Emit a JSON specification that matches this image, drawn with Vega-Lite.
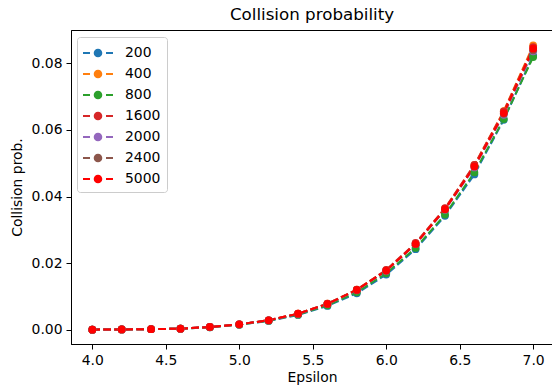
{
  "$schema": "https://vega.github.io/schema/vega-lite/v6.json",
  "width": 482,
  "height": 314,
  "autosize": {"type": "none"},
  "padding": {"left": 71, "top": 30, "right": 0, "bottom": 46},
  "config": {
    "font": "DejaVu Sans",
    "view": {"stroke": "black", "strokeWidth": 1},
    "axis": {
      "grid": false,
      "domainColor": "black",
      "domainWidth": 1,
      "tickColor": "black",
      "tickSize": 5,
      "tickWidth": 1,
      "labelColor": "black",
      "labelFontSize": 13.9,
      "labelPadding": 4,
      "titleColor": "black",
      "titleFontSize": 13.9,
      "titleFontWeight": "normal"
    }
  },
  "title": {"text": "Collision probability", "fontSize": 16.7, "fontWeight": "normal", "color": "black", "anchor": "middle", "offset": 6},
  "data": {
    "values": [
      {"eps": 4.0, "n": "200", "p": 0.0001}, {"eps": 4.2, "n": "200", "p": 0.00015}, {"eps": 4.4, "n": "200", "p": 0.00025}, {"eps": 4.6, "n": "200", "p": 0.0004}, {"eps": 4.8, "n": "200", "p": 0.0008}, {"eps": 5.0, "n": "200", "p": 0.0016}, {"eps": 5.2, "n": "200", "p": 0.0027}, {"eps": 5.4, "n": "200", "p": 0.0045}, {"eps": 5.6, "n": "200", "p": 0.0072}, {"eps": 5.8, "n": "200", "p": 0.0110}, {"eps": 6.0, "n": "200", "p": 0.0166}, {"eps": 6.2, "n": "200", "p": 0.0242}, {"eps": 6.4, "n": "200", "p": 0.0342}, {"eps": 6.6, "n": "200", "p": 0.0466}, {"eps": 6.8, "n": "200", "p": 0.0630}, {"eps": 7.0, "n": "200", "p": 0.0822},
      {"eps": 4.0, "n": "400", "p": 0.0001}, {"eps": 4.2, "n": "400", "p": 0.00015}, {"eps": 4.4, "n": "400", "p": 0.00025}, {"eps": 4.6, "n": "400", "p": 0.0004}, {"eps": 4.8, "n": "400", "p": 0.0009}, {"eps": 5.0, "n": "400", "p": 0.0017}, {"eps": 5.2, "n": "400", "p": 0.0029}, {"eps": 5.4, "n": "400", "p": 0.0049}, {"eps": 5.6, "n": "400", "p": 0.0079}, {"eps": 5.8, "n": "400", "p": 0.0121}, {"eps": 6.0, "n": "400", "p": 0.0179}, {"eps": 6.2, "n": "400", "p": 0.0259}, {"eps": 6.4, "n": "400", "p": 0.0364}, {"eps": 6.6, "n": "400", "p": 0.0494}, {"eps": 6.8, "n": "400", "p": 0.0656}, {"eps": 7.0, "n": "400", "p": 0.0853},
      {"eps": 4.0, "n": "800", "p": 0.0001}, {"eps": 4.2, "n": "800", "p": 0.00015}, {"eps": 4.4, "n": "800", "p": 0.00025}, {"eps": 4.6, "n": "800", "p": 0.0004}, {"eps": 4.8, "n": "800", "p": 0.0008}, {"eps": 5.0, "n": "800", "p": 0.0016}, {"eps": 5.2, "n": "800", "p": 0.0028}, {"eps": 5.4, "n": "800", "p": 0.0046}, {"eps": 5.6, "n": "800", "p": 0.0074}, {"eps": 5.8, "n": "800", "p": 0.0113}, {"eps": 6.0, "n": "800", "p": 0.0170}, {"eps": 6.2, "n": "800", "p": 0.0246}, {"eps": 6.4, "n": "800", "p": 0.0346}, {"eps": 6.6, "n": "800", "p": 0.0472}, {"eps": 6.8, "n": "800", "p": 0.0632}, {"eps": 7.0, "n": "800", "p": 0.0818},
      {"eps": 4.0, "n": "1600", "p": 0.0001}, {"eps": 4.2, "n": "1600", "p": 0.00015}, {"eps": 4.4, "n": "1600", "p": 0.00025}, {"eps": 4.6, "n": "1600", "p": 0.0004}, {"eps": 4.8, "n": "1600", "p": 0.0009}, {"eps": 5.0, "n": "1600", "p": 0.0017}, {"eps": 5.2, "n": "1600", "p": 0.0029}, {"eps": 5.4, "n": "1600", "p": 0.0049}, {"eps": 5.6, "n": "1600", "p": 0.0079}, {"eps": 5.8, "n": "1600", "p": 0.0121}, {"eps": 6.0, "n": "1600", "p": 0.0180}, {"eps": 6.2, "n": "1600", "p": 0.0261}, {"eps": 6.4, "n": "1600", "p": 0.0365}, {"eps": 6.6, "n": "1600", "p": 0.0495}, {"eps": 6.8, "n": "1600", "p": 0.0655}, {"eps": 7.0, "n": "1600", "p": 0.0848},
      {"eps": 4.0, "n": "2000", "p": 0.0001}, {"eps": 4.2, "n": "2000", "p": 0.00015}, {"eps": 4.4, "n": "2000", "p": 0.00025}, {"eps": 4.6, "n": "2000", "p": 0.0004}, {"eps": 4.8, "n": "2000", "p": 0.0009}, {"eps": 5.0, "n": "2000", "p": 0.0017}, {"eps": 5.2, "n": "2000", "p": 0.0029}, {"eps": 5.4, "n": "2000", "p": 0.0048}, {"eps": 5.6, "n": "2000", "p": 0.0078}, {"eps": 5.8, "n": "2000", "p": 0.0119}, {"eps": 6.0, "n": "2000", "p": 0.0177}, {"eps": 6.2, "n": "2000", "p": 0.0257}, {"eps": 6.4, "n": "2000", "p": 0.0360}, {"eps": 6.6, "n": "2000", "p": 0.0487}, {"eps": 6.8, "n": "2000", "p": 0.0645}, {"eps": 7.0, "n": "2000", "p": 0.0835},
      {"eps": 4.0, "n": "2400", "p": 0.0001}, {"eps": 4.2, "n": "2400", "p": 0.00015}, {"eps": 4.4, "n": "2400", "p": 0.00025}, {"eps": 4.6, "n": "2400", "p": 0.0004}, {"eps": 4.8, "n": "2400", "p": 0.0009}, {"eps": 5.0, "n": "2400", "p": 0.0017}, {"eps": 5.2, "n": "2400", "p": 0.0029}, {"eps": 5.4, "n": "2400", "p": 0.0048}, {"eps": 5.6, "n": "2400", "p": 0.0078}, {"eps": 5.8, "n": "2400", "p": 0.0120}, {"eps": 6.0, "n": "2400", "p": 0.0178}, {"eps": 6.2, "n": "2400", "p": 0.0258}, {"eps": 6.4, "n": "2400", "p": 0.0361}, {"eps": 6.6, "n": "2400", "p": 0.0490}, {"eps": 6.8, "n": "2400", "p": 0.0648}, {"eps": 7.0, "n": "2400", "p": 0.0838},
      {"eps": 4.0, "n": "5000", "p": 0.0001}, {"eps": 4.2, "n": "5000", "p": 0.00015}, {"eps": 4.4, "n": "5000", "p": 0.00025}, {"eps": 4.6, "n": "5000", "p": 0.0004}, {"eps": 4.8, "n": "5000", "p": 0.0009}, {"eps": 5.0, "n": "5000", "p": 0.0017}, {"eps": 5.2, "n": "5000", "p": 0.0029}, {"eps": 5.4, "n": "5000", "p": 0.0049}, {"eps": 5.6, "n": "5000", "p": 0.0078}, {"eps": 5.8, "n": "5000", "p": 0.0120}, {"eps": 6.0, "n": "5000", "p": 0.0178}, {"eps": 6.2, "n": "5000", "p": 0.0258}, {"eps": 6.4, "n": "5000", "p": 0.0362}, {"eps": 6.6, "n": "5000", "p": 0.0490}, {"eps": 6.8, "n": "5000", "p": 0.0650}, {"eps": 7.0, "n": "5000", "p": 0.0843}
    ]
  },
  "encoding": {
    "x": {
      "field": "eps", "type": "quantitative", "title": "Epsilon",
      "scale": {"domain": [3.855, 7.135], "nice": false, "zero": false},
      "axis": {"values": [4.0, 4.5, 5.0, 5.5, 6.0, 6.5, 7.0], "format": ".1f", "titlePadding": 4}
    },
    "y": {
      "field": "p", "type": "quantitative", "title": "Collision prob.",
      "scale": {"domain": [-0.0042, 0.0899], "nice": false, "zero": false},
      "axis": {"values": [0, 0.02, 0.04, 0.06, 0.08], "format": ".2f", "titlePadding": 7}
    },
    "color": {
      "field": "n", "type": "nominal",
      "scale": {
        "domain": ["200", "400", "800", "1600", "2000", "2400", "5000"],
        "range": ["#1f77b4", "#ff7f0e", "#2ca02c", "#d62728", "#9467bd", "#8c564b", "#ff0000"]
      },
      "legend": {
        "title": null,
        "orient": "none",
        "legendX": 6,
        "legendY": 7,
        "padding": 6,
        "rowPadding": 4,
        "symbolOffset": 5,
        "labelOffset": 17,
        "labelFontSize": 13.9,
        "labelColor": "black",
        "symbolType": "M-1.5,-0.1L-0.8,-0.1L-0.8,0.1L-1.5,0.1ZM0.8,-0.1L1.5,-0.1L1.5,0.1L0.8,0.1ZM-0.43,0A0.43,0.43,0,1,0,0.43,0A0.43,0.43,0,1,0,-0.43,0Z",
        "symbolSize": 400,
        "symbolStrokeWidth": 0,
        "symbolOpacity": 1,
        "fillColor": "white",
        "strokeColor": "#cccccc",
        "cornerRadius": 3
      }
    }
  },
  "layer": [
    {"mark": {"type": "line", "strokeDash": [7.7, 3.3], "strokeWidth": 2}},
    {"mark": {"type": "point", "filled": true, "size": 60, "opacity": 1}}
  ]
}
